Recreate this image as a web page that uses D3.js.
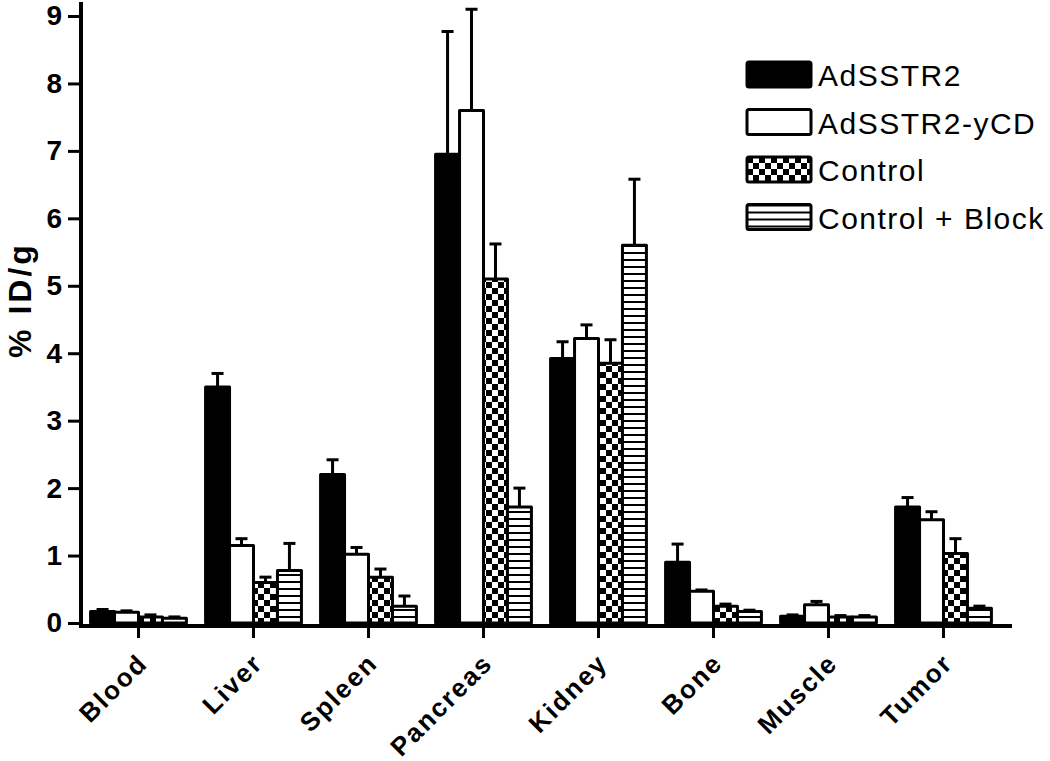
<!DOCTYPE html>
<html>
<head>
<meta charset="utf-8">
<script src="https://cdn.jsdelivr.net/npm/d3@7"></script>
<style>
  body { margin: 0; background: #fff; }
  svg { display: block; font-family: "Liberation Sans", Arial, sans-serif; }
</style>
</head>
<body>
<script>
// data
var categories = ["Blood", "Liver", "Spleen", "Pancreas", "Kidney", "Bone", "Muscle", "Tumor"];
var seriesNames = ["AdSSTR2", "AdSSTR2-yCD", "Control", "Control + Block"];

var adsstr2      = [0.17, 3.50, 2.20, 6.95, 3.92, 0.90, 0.10, 1.72];
var adsstr2Err   = [0.03, 0.20, 0.22, 1.82, 0.25, 0.27, 0.02, 0.14];
var adsstr2ycd   = [0.16, 1.15, 1.02, 7.60, 4.22, 0.47, 0.27, 1.53];
var adsstr2ycdErr= [0.02, 0.10, 0.10, 1.50, 0.20, 0.02, 0.05, 0.12];
var control      = [0.09, 0.60, 0.68, 5.10, 3.85, 0.25, 0.09, 1.03];
var controlErr   = [0.03, 0.08, 0.12, 0.52, 0.35, 0.03, 0.02, 0.22];
var block        = [0.07, 0.78, 0.25, 1.72, 5.60, 0.17, 0.09, 0.22];
var blockErr     = [0.02, 0.40, 0.15, 0.28, 0.98, 0.02, 0.02, 0.03];

var yTicks = [0, 1, 2, 3, 4, 5, 6, 7, 8, 9];

var seriesValues = [adsstr2, adsstr2ycd, control, block];
var seriesErrors = [adsstr2Err, adsstr2ycdErr, controlErr, blockErr];
var seriesFills = ["#000", "#fff", "url(#checker)", "url(#stripes)"];

var width = 1050, height = 761;

var svg = d3.select("body").append("svg")
    .attr("width", width)
    .attr("height", height);

// patterns
var defs = svg.append("defs");
var checker = defs.append("pattern")
    .attr("id", "checker")
    .attr("patternUnits", "userSpaceOnUse")
    .attr("width", 12).attr("height", 12);
checker.append("rect").attr("width", 12).attr("height", 12).attr("fill", "#fff");
checker.append("rect").attr("width", 6).attr("height", 6).attr("fill", "#000");
checker.append("rect").attr("x", 6).attr("y", 6).attr("width", 6).attr("height", 6).attr("fill", "#000");

var stripes = defs.append("pattern")
    .attr("id", "stripes")
    .attr("patternUnits", "userSpaceOnUse")
    .attr("width", 10).attr("height", 7);
stripes.append("rect").attr("width", 10).attr("height", 7).attr("fill", "#fff");
stripes.append("rect").attr("y", 0).attr("width", 10).attr("height", 2).attr("fill", "#000");

// scales
var x0 = d3.scaleBand().domain(categories).range([81, 1001]).padding(0);
var x1 = d3.scaleBand().domain(seriesNames).range([0, x0.bandwidth()]).paddingOuter(0.4).paddingInner(0);
var y = d3.scaleLinear().domain([0, 9]).range([623, 16]);

// rows of bars
var rows = [];
seriesNames.forEach(function (s, si) {
    categories.forEach(function (c, ci) {
        rows.push({ cat: c, series: s, si: si, value: seriesValues[si][ci], err: seriesErrors[si][ci] });
    });
});

// error bars (drawn under the bars)
var errG = svg.append("g").attr("stroke", "#000").attr("stroke-width", 3);
rows.forEach(function (d) {
    var cx = x0(d.cat) + x1(d.series) + x1.bandwidth() / 2;
    errG.append("line")
        .attr("x1", cx).attr("x2", cx)
        .attr("y1", y(d.value)).attr("y2", y(d.value + d.err));
    errG.append("line")
        .attr("x1", cx - 6).attr("x2", cx + 6)
        .attr("y1", y(d.value + d.err)).attr("y2", y(d.value + d.err));
});

// bars
svg.append("g").selectAll("rect")
    .data(rows)
    .enter()
    .append("rect")
    .attr("x", function (d) { return x0(d.cat) + x1(d.series); })
    .attr("y", function (d) { return y(d.value); })
    .attr("width", x1.bandwidth())
    .attr("height", function (d) { return y(0) - y(d.value); })
    .attr("fill", function (d) { return seriesFills[d.si]; })
    .attr("stroke", "#000")
    .attr("stroke-width", 3)
    .attr("stroke-linejoin", "round");

// y axis
var yAxis = svg.append("g")
    .attr("transform", "translate(81,0)")
    .call(d3.axisLeft(y).tickValues(yTicks).tickSize(13).tickPadding(6).tickFormat(d3.format("d")));
yAxis.select(".domain").remove();
yAxis.append("line")
    .attr("x1", 0).attr("x2", 0)
    .attr("y1", 2).attr("y2", 626)
    .attr("stroke", "#000").attr("stroke-width", 4);
yAxis.selectAll(".tick line").attr("stroke-width", 3);
yAxis.selectAll(".tick text")
    .attr("font-size", 28)
    .attr("font-weight", "bold")
    .attr("font-family", "'Liberation Sans', Arial, sans-serif")
    .attr("fill", "#000");

// x axis
var xAxis = svg.append("g")
    .attr("transform", "translate(0,626)")
    .call(d3.axisBottom(x0).tickSize(12).tickPadding(6));
xAxis.select(".domain").remove();
xAxis.append("line")
    .attr("x1", 79).attr("x2", 1012)
    .attr("y1", 0).attr("y2", 0)
    .attr("stroke", "#000").attr("stroke-width", 4);
xAxis.selectAll(".tick line").attr("stroke-width", 3);
xAxis.selectAll(".tick text")
    .attr("font-size", 26)
    .attr("font-weight", "bold")
    .attr("font-family", "'Liberation Sans', Arial, sans-serif")
    .attr("letter-spacing", 2)
    .attr("fill", "#000")
    .attr("text-anchor", "end")
    .attr("dy", null)
    .attr("transform", "translate(-2,26) rotate(-45)");

// y title
svg.append("text")
    .attr("transform", "translate(31,300) rotate(-90)")
    .attr("text-anchor", "middle")
    .attr("font-size", 32)
    .attr("font-weight", "bold")
    .attr("letter-spacing", 3)
    .text("% ID/g");

// legend
var legend = svg.append("g").attr("transform", "translate(747,62)");
seriesNames.forEach(function (s, i) {
    var row = legend.append("g").attr("transform", "translate(0," + (i * 47.5) + ")");
    row.append("rect")
        .attr("width", 64).attr("height", 25)
        .attr("rx", 2)
        .attr("fill", seriesFills[i])
        .attr("stroke", "#000")
        .attr("stroke-width", 3);
    row.append("text")
        .attr("x", 71).attr("y", 24)
        .attr("font-size", 30)
        .attr("letter-spacing", 1.5)
        .text(s);
});
</script>
</body>
</html>
